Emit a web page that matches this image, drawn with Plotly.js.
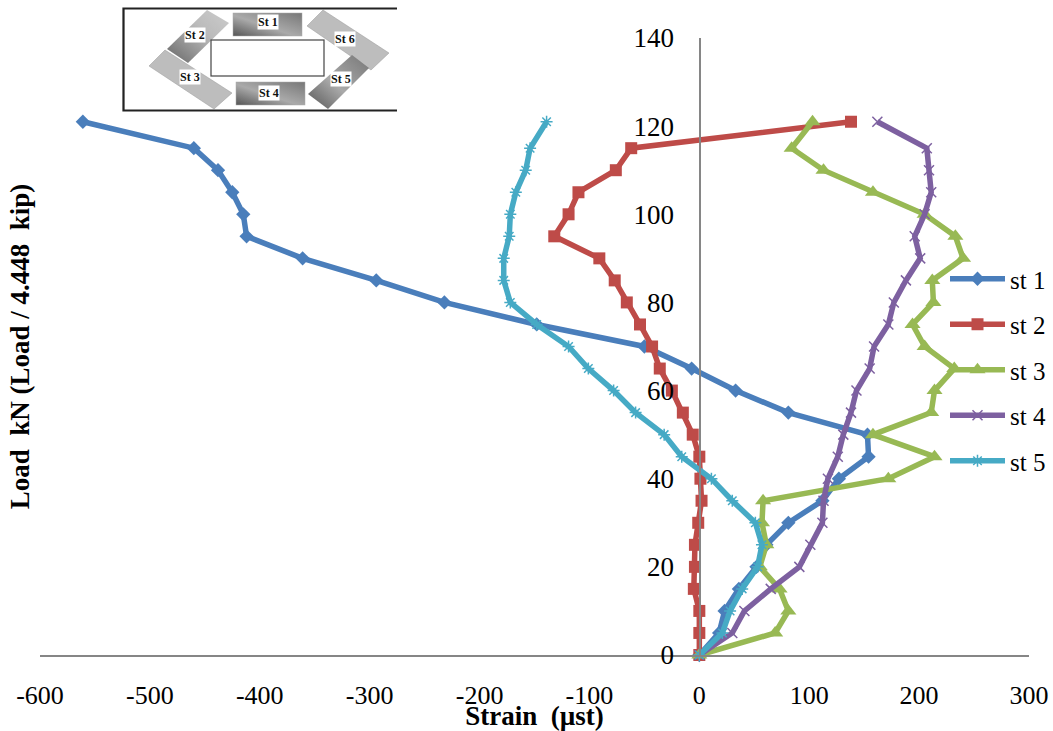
<!DOCTYPE html>
<html><head><meta charset="utf-8">
<script src="https://cdn.plot.ly/plotly-3.0.1.min.js"></script>
<style>html,body{margin:0;padding:0;background:#fff}#c{width:1053px;height:731px}</style>
</head><body><div id="c"></div>
<script>
const load=[0,5,10,15,20,25,30,35,40,45,50,55,60,65,70,75,80,85,90,95,100,105,110,115,121];
const st1=[0,18,23,36,52,61,81,112,127,154,153,81,33,-7,-50,-148,-232,-294,-361,-412,-415,-425,-438,-460,-561];
const st2=[0,0,0,-5,-4,-4,-1,2,1,0,-6,-15,-25,-36,-43,-54,-66,-77,-91,-132,-119,-110,-76,-62,138];
const st3=[0,69,81,73,55,61,57,58,172,214,158,211,214,232,205,194,213,212,240,233,205,158,113,84,103];
const st4=[0,30,41,65,91,101,112,113,117,126,131,138,143,155,159,172,177,188,201,196,205,211,209,207,162];
const st5=[0,21,28,39,53,57,51,30,11,-16,-32,-58,-78,-101,-119,-148,-172,-178,-178,-173,-172,-167,-158,-154,-139];
const seriesNames=['st 1','st 2','st 3','st 4','st 5'];
const colors=['#4A7EBB','#BE4B48','#98B954','#7D60A0','#46AAC5'];
const symbols=['diamond','square','triangle-up','x-thin','asterisk-open'];
const sizes=[11,12,14,10,10];
const xTicks=[-600,-500,-400,-300,-200,-100,0,100,200,300];
const yTicks=[0,20,40,60,80,100,120,140];
const insetLabels=[['St 1',268,22],['St 2',195,35],['St 3',190,77],['St 4',269,93],['St 5',341,79],['St 6',345,39]];

const W=1053,H=731,L=40,R=1029,T=38,B=655;
const px=x=>(x-L)/(R-L), py=y=>(B-y)/(B-T);
const font='"Liberation Serif","Times New Roman",serif';

const svg=`<svg xmlns="http://www.w3.org/2000/svg" width="900" height="360" viewBox="0 0 300 120">
<defs>
<linearGradient id="a" x1="0" y1="1" x2="1" y2="0"><stop offset="0" stop-color="#555"/><stop offset=".45" stop-color="#aaa"/><stop offset="1" stop-color="#777"/></linearGradient>
<linearGradient id="b" x1="0" y1="1" x2="1" y2="0"><stop offset="0" stop-color="#666"/><stop offset=".6" stop-color="#bbb"/><stop offset="1" stop-color="#ccc"/></linearGradient>
<filter id="f"><feGaussianBlur stdDeviation=".35"/></filter></defs>
<g filter="url(#f)">
<rect x="123" y="13" width="69" height="23" fill="url(#a)" stroke="#aaa" stroke-width=".5"/>
<rect x="126" y="82" width="69" height="23" fill="url(#a)" stroke="#aaa" stroke-width=".5"/>
<polygon points="97,10 119,23 78,63 57,49" fill="url(#b)"/>
<polygon points="55,50 39,66 104,109 122,93" fill="#bdbdbd" stroke="#999" stroke-width=".5"/>
<polygon points="213,10 197,26 261,70 279,53" fill="#bdbdbd" stroke="#999" stroke-width=".5"/>
<polygon points="242,55 259,68 218,109 198,94" fill="url(#a)"/>
<rect x="101" y="40" width="113" height="36" fill="#fff" stroke="#444" stroke-width="1.2"/>
<path d="M287 8.5H13.5V110.5H287" fill="none" stroke="#222" stroke-width="2.2"/>
</g></svg>`;

const traces=[st1,st2,st3,st4,st5].map((v,i)=>({
  x:v,y:load,name:seriesNames[i],type:'scatter',mode:'lines+markers',cliponaxis:false,
  line:{color:colors[i],width:5.5},
  marker:{symbol:symbols[i],size:sizes[i],color:colors[i],line:{color:colors[i],width:(i>=3)?1.5:0}},
  legendgroup:seriesNames[i]
}));

const layout={
  width:W,height:H,autosize:false,
  paper_bgcolor:'#fff',plot_bgcolor:'#fff',
  margin:{l:L,r:W-R,t:T,b:H-B,pad:0,autoexpand:false},
  font:{family:font,color:'#000',size:25},
  showlegend:true,
  legend:{xref:'container',yref:'container',x:945/W,xanchor:'left',y:1-256/H,yanchor:'top',itemwidth:55,
    traceorder:'grouped',tracegroupgap:10,bgcolor:'rgba(0,0,0,0)',font:{family:font,size:25,color:'#000'}},
  xaxis:{range:[-600,300],tickvals:xTicks,ticktext:xTicks.map(String),ticks:'',showgrid:false,zeroline:false,
    showline:true,linecolor:'#868686',linewidth:2,tickfont:{family:font,size:26,color:'#000'},
    ticklabelstandoff:16,
    title:{text:'Strain  (µst)',font:{family:font,size:27,color:'#000',weight:'bold'},standoff:2}},
  yaxis:{range:[0,140],tickvals:yTicks,ticktext:yTicks.map(String),ticks:'',showgrid:false,zeroline:false,
    anchor:'free',position:2/3,showline:true,linecolor:'#868686',linewidth:1.5,
    tickfont:{family:font,size:27,color:'#000'},ticklabelstandoff:20,
    title:{text:'Load  kN (Load / 4.448  kip)',font:{family:font,size:27,color:'#000',weight:'bold'},standoff:594}},
  images:[{source:'data:image/svg+xml;charset=utf-8,'+encodeURIComponent(svg),xref:'paper',yref:'paper',
    x:px(110),y:py(0),sizex:300/(R-L),sizey:120/(B-T),xanchor:'left',yanchor:'top',sizing:'stretch',layer:'above'}],
  annotations:insetLabels.map(l=>({text:'<b>'+l[0]+'</b>',xref:'paper',yref:'paper',x:px(l[1]),y:py(l[2]),
    showarrow:false,xanchor:'center',yanchor:'middle',bgcolor:'#fff',borderpad:0,
    font:{family:font,size:12,color:'#111'}}))
};
Plotly.newPlot('c',traces,layout,{displayModeBar:false,staticPlot:true});
</script></body></html>
